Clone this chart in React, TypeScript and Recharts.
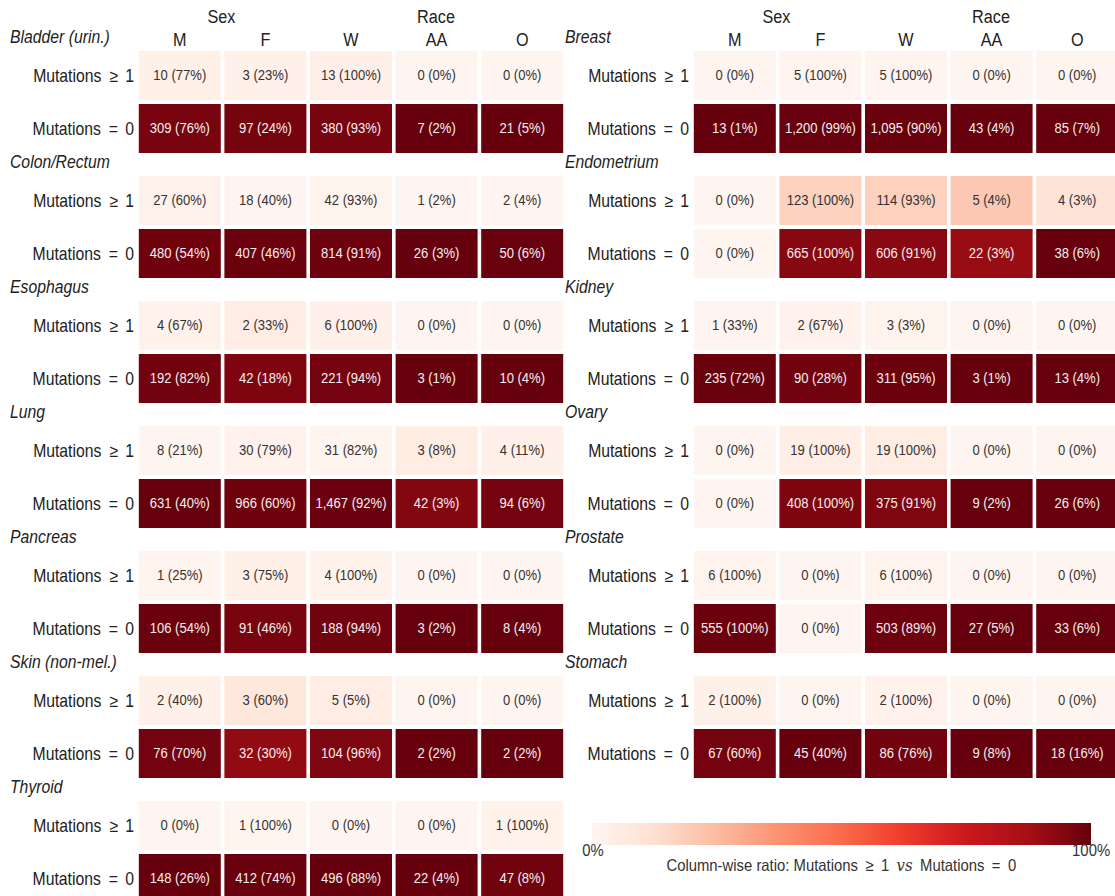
import React from "react";
import { ScatterChart, Scatter, XAxis, YAxis } from "recharts";

// column groups (Sex: M, F / Race: W, AA, O)
const groups = ["M", "F", "W", "AA", "O"];

// left column of panels
const leftCancers = ["Bladder (urin.)", "Colon/Rectum", "Esophagus", "Lung", "Pancreas", "Skin (non-mel.)", "Thyroid"];
const leftMut = [
  [10, 3, 13, 0, 0],
  [27, 18, 42, 1, 2],
  [4, 2, 6, 0, 0],
  [8, 30, 31, 3, 4],
  [1, 3, 4, 0, 0],
  [2, 3, 5, 0, 0],
  [0, 1, 0, 0, 1],
];
const leftMutPct = [
  [77, 23, 100, 0, 0],
  [60, 40, 93, 2, 4],
  [67, 33, 100, 0, 0],
  [21, 79, 82, 8, 11],
  [25, 75, 100, 0, 0],
  [40, 60, 5, 0, 0],
  [0, 100, 0, 0, 100],
];
const leftNone = [
  [309, 97, 380, 7, 21],
  [480, 407, 814, 26, 50],
  [192, 42, 221, 3, 10],
  [631, 966, 1467, 42, 94],
  [106, 91, 188, 3, 8],
  [76, 32, 104, 2, 2],
  [148, 412, 496, 22, 47],
];
const leftNonePct = [
  [76, 24, 93, 2, 5],
  [54, 46, 91, 3, 6],
  [82, 18, 94, 1, 4],
  [40, 60, 92, 3, 6],
  [54, 46, 94, 2, 4],
  [70, 30, 96, 2, 2],
  [26, 74, 88, 4, 8],
];

// right column of panels
const rightCancers = ["Breast", "Endometrium", "Kidney", "Ovary", "Prostate", "Stomach"];
const rightMut = [
  [0, 5, 5, 0, 0],
  [0, 123, 114, 5, 4],
  [1, 2, 3, 0, 0],
  [0, 19, 19, 0, 0],
  [6, 0, 6, 0, 0],
  [2, 0, 2, 0, 0],
];
const rightMutPct = [
  [0, 100, 100, 0, 0],
  [0, 100, 93, 4, 3],
  [33, 67, 3, 0, 0],
  [0, 100, 100, 0, 0],
  [100, 0, 100, 0, 0],
  [100, 0, 100, 0, 0],
];
const rightNone = [
  [13, 1200, 1095, 43, 85],
  [0, 665, 606, 22, 38],
  [235, 90, 311, 3, 13],
  [0, 408, 375, 9, 26],
  [555, 0, 503, 27, 33],
  [67, 45, 86, 9, 18],
];
const rightNonePct = [
  [1, 99, 90, 4, 7],
  [0, 100, 91, 3, 6],
  [72, 28, 95, 1, 4],
  [0, 100, 91, 2, 6],
  [100, 0, 89, 5, 6],
  [60, 40, 76, 8, 16],
];

// matplotlib "Reds"
const REDS = ["#fff5f0", "#fee0d2", "#fcbba1", "#fc9272", "#fb6a4a", "#ef3b2c", "#cb181d", "#a50f15", "#67000d"];

const FONT = '"Liberation Sans", Arial, Helvetica, sans-serif';
const SX = 0.9; // the figure is slightly squeezed horizontally
const CHART_W = 565;
const CHART_H = 160;
const CELL_W = 82;
const CELL_H = 49;
const PANEL_STEP = 125;
const RIGHT_X = 555;

function hexToRgb(h: string) {
  return [parseInt(h.slice(1, 3), 16), parseInt(h.slice(3, 5), 16), parseInt(h.slice(5, 7), 16)];
}

function redsRgb(t: number) {
  const s = Math.max(0, Math.min(1, t)) * (REDS.length - 1);
  const i = Math.min(Math.floor(s), REDS.length - 2);
  const f = s - i;
  const a = hexToRgb(REDS[i]);
  const b = hexToRgb(REDS[i + 1]);
  return a.map((v, k) => v + (b[k] - v) * f);
}

function reds(t: number) {
  const c = redsRgb(t).map(Math.round);
  return `rgb(${c[0]},${c[1]},${c[2]})`;
}

function luminance(t: number) {
  const c = redsRgb(t)
    .map((v) => v / 255)
    .map((v) => (v <= 0.03928 ? v / 12.92 : Math.pow((v + 0.055) / 1.055, 2.4)));
  return 0.2126 * c[0] + 0.7152 * c[1] + 0.0722 * c[2];
}

const fmt = (n: number, p: number) => `${n.toLocaleString("en-US")} (${p}%)`;

function HeatCell(props: any) {
  const { cx, cy, payload } = props;
  if (cx == null || cy == null) return null;
  const dark = luminance(payload.level) < 0.408;
  return (
    <g>
      <rect x={cx - CELL_W / 2} y={cy - CELL_H / 2} width={CELL_W} height={CELL_H} fill={reds(payload.level)} />
      <g transform={`translate(${cx},${cy}) scale(${SX},1)`}>
        <text x={0} y={0} textAnchor="middle" dominantBaseline="central" fontSize={14.5} fill={dark ? "#f4eeee" : "#333333"}>
          {payload.label}
        </text>
      </g>
    </g>
  );
}

function GroupTick(props: any) {
  const { x, y, payload } = props;
  return (
    <g transform={`translate(${x},${y}) scale(${SX},1)`}>
      <text x={0} y={0} textAnchor="middle" fontSize={18} fill="#222">
        {groups[payload.value]}
      </text>
    </g>
  );
}

function RowTick(props: any) {
  const { x, y, payload } = props;
  const ge = payload.value === 1;
  return (
    <g transform={`translate(${x},${y}) scale(${SX},1)`}>
      <text x={0} y={0} textAnchor="end" dominantBaseline="central" fontSize={17.5} fill="#222">
        <tspan>Mutations</tspan>
        <tspan dx={9}>{ge ? "≥" : "="}</tspan>
        <tspan dx={8}>{ge ? "1" : "0"}</tspan>
      </text>
    </g>
  );
}

const squeezed = (origin: string): React.CSSProperties => ({
  display: "inline-block",
  transform: `scaleX(${SX})`,
  transformOrigin: origin,
  whiteSpace: "nowrap",
});

function Panel({ title, mut, mutPct, none, nonePct, header }: any) {
  // column-wise share, then stretched over the panel's own min..max
  const shares = groups.map((_, i) => {
    const total = mut[i] + none[i];
    return total ? [mut[i] / total, none[i] / total] : [0, 0];
  });
  const flat = shares.flat();
  const lo = Math.min(...flat);
  const hi = Math.max(...flat);
  const norm = (v: number) => (hi > lo ? (v - lo) / (hi - lo) : 0);
  const data = groups.flatMap((g, i) => [
    { x: i, y: 1, group: g, level: norm(shares[i][0]), label: fmt(mut[i], mutPct[i]) },
    { x: i, y: 0, group: g, level: norm(shares[i][1]), label: fmt(none[i], nonePct[i]) },
  ]);
  return (
    <div style={{ position: "relative", width: CHART_W, height: CHART_H }}>
      <ScatterChart width={CHART_W} height={CHART_H} margin={{ top: 0, right: 0, bottom: 5, left: 0 }}>
        <XAxis
          type="number"
          dataKey="x"
          domain={[-0.5, 4.5]}
          ticks={[0, 1, 2, 3, 4]}
          interval={0}
          orientation="top"
          height={49}
          axisLine={false}
          tickLine={false}
          tickSize={0}
          tickMargin={3}
          tick={header ? <GroupTick /> : false}
        />
        <YAxis
          type="number"
          dataKey="y"
          domain={[-0.5, 1.5]}
          ticks={[0, 1]}
          interval={0}
          width={137}
          axisLine={false}
          tickLine={false}
          tickSize={0}
          tickMargin={3}
          tick={<RowTick />}
        />
        <Scatter data={data} shape={HeatCell} isAnimationActive={false} />
      </ScatterChart>
      <div style={{ position: "absolute", left: 10, top: 27, fontSize: 17.5, lineHeight: "20px", fontStyle: "italic", color: "#222" }}>
        <span style={squeezed("left center")}>{title}</span>
      </div>
      {header && (
        <>
          <div style={{ position: "absolute", left: 172, top: 7, width: 100, textAlign: "center", fontSize: 18, lineHeight: "20px", color: "#222" }}>
            <span style={squeezed("center center")}>Sex</span>
          </div>
          <div style={{ position: "absolute", left: 386, top: 7, width: 100, textAlign: "center", fontSize: 18, lineHeight: "20px", color: "#222" }}>
            <span style={squeezed("center center")}>Race</span>
          </div>
        </>
      )}
    </div>
  );
}

export default function App() {
  const gradient = `linear-gradient(to right, ${REDS.join(", ")})`;
  return (
    <div style={{ position: "absolute", left: 0, top: 0, width: 1115, height: 896, overflow: "hidden", background: "#fff", fontFamily: FONT }}>
      {leftCancers.map((c, g) => (
        <div key={c} style={{ position: "absolute", left: 0, top: g * PANEL_STEP }}>
          <Panel title={c} mut={leftMut[g]} mutPct={leftMutPct[g]} none={leftNone[g]} nonePct={leftNonePct[g]} header={g === 0} />
        </div>
      ))}
      {rightCancers.map((c, g) => (
        <div key={c} style={{ position: "absolute", left: RIGHT_X, top: g * PANEL_STEP }}>
          <Panel title={c} mut={rightMut[g]} mutPct={rightMutPct[g]} none={rightNone[g]} nonePct={rightNonePct[g]} header={g === 0} />
        </div>
      ))}
      {/* colour bar */}
      <div style={{ position: "absolute", left: 592, top: 823, width: 499, height: 22, background: gradient }} />
      <div style={{ position: "absolute", left: 553, top: 840, width: 80, textAlign: "center", fontSize: 16.5, lineHeight: "20px", color: "#333" }}>
        <span style={squeezed("center center")}>0%</span>
      </div>
      <div style={{ position: "absolute", left: 1051, top: 840, width: 80, textAlign: "center", fontSize: 16.5, lineHeight: "20px", color: "#333" }}>
        <span style={squeezed("center center")}>100%</span>
      </div>
      <div style={{ position: "absolute", left: 541, top: 855, width: 600, textAlign: "center", fontSize: 16.5, lineHeight: "20px", color: "#333" }}>
        <span style={squeezed("center center")}>
          Column-wise ratio: Mutations{"\u2002"}≥{"\u2002"}1{"\u2002"}
          <span style={{ fontFamily: "DejaVu Serif, serif", fontStyle: "italic" }}>vs</span>
          {"\u2002"}Mutations{"\u2002"}={"\u2002"}0
        </span>
      </div>
    </div>
  );
}
